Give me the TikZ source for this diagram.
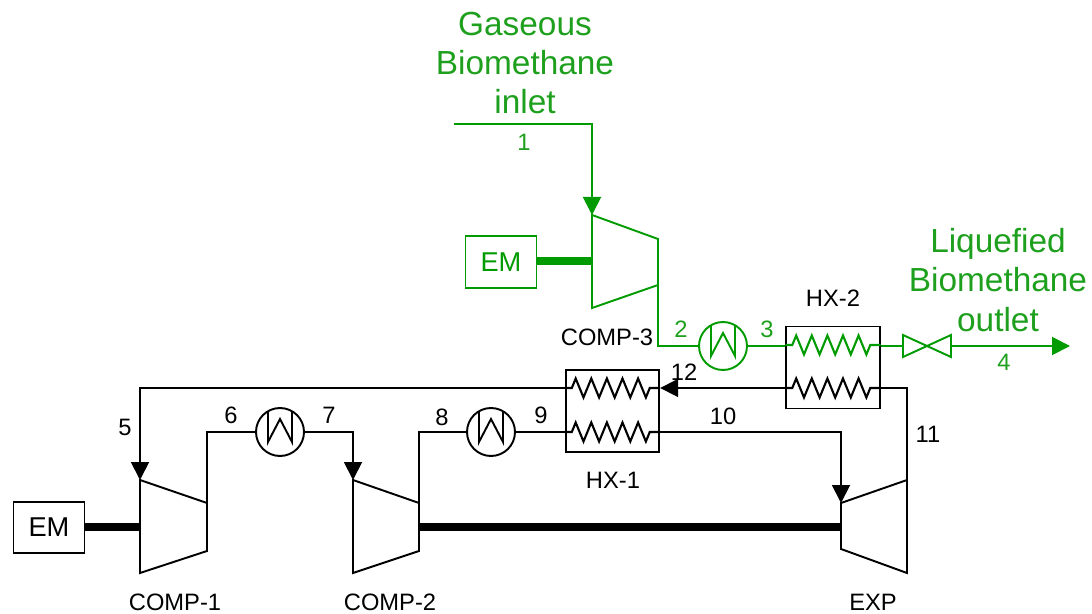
\documentclass[tikz,border=0pt]{standalone}
\usepackage{fontspec}
\setmainfont{Liberation Sans}
\usetikzlibrary{arrows.meta,decorations.pathmorphing}
\definecolor{biogreen}{RGB}{0,155,0}
\definecolor{taggreen}{RGB}{30,160,30}
\tikzset{
  stream/.style={line width=1.1pt,line join=miter},
  feedarrow/.style={-{Triangle[length=0.36cm,width=0.36cm]}},
  shaft/.style={line width=4.4pt},
  coil/.style={line width=1.2pt,decorate,decoration={zigzag,segment length=0.312cm,amplitude=0.19cm,pre length=0.14cm,post length=0.14cm}},
  embox/.style={draw=#1,text=#1,line width=1.1pt,minimum width=1.42cm,minimum height=1.03cm,inner sep=0pt,font=\fontsize{15.5}{18}\selectfont},
  hxbox/.style={draw,line width=1.1pt,minimum width=1.87cm,minimum height=1.64cm,inner sep=0pt},
  coolerbox/.style={circle,draw=#1,line width=1.1pt,minimum size=0.96cm,inner sep=0pt,outer sep=0pt,
    path picture={\draw[#1,line width=1.1pt] ([shift={(-0.24cm,0.5cm)}]path picture bounding box.center) -- ++(0,-0.7cm) -- ++(0.24cm,0.46cm) -- ++(0.24cm,-0.46cm) -- ++(0,0.7cm);}},
  tag/.style={inner sep=0pt,font=\fontsize{13.5}{16}\selectfont},
  bigtag/.style={inner sep=0pt,text=taggreen,align=center,font=\fontsize{19}{22.3}\selectfont}
}
\begin{document}
\begin{tikzpicture}[x=0.02cm,y=-0.02cm]
  \useasboundingbox (0,0) rectangle (1092,614);
  % machines
  \coordinate (c1a) at (140,480);
  \coordinate (c1b) at (207,503);
  \coordinate (c1c) at (207,551);
  \coordinate (c1d) at (140,573);
  \coordinate (c1s) at (140,527);
  \coordinate (c2a) at (353,480);
  \coordinate (c2b) at (419,503);
  \coordinate (c2c) at (419,551);
  \coordinate (c2d) at (353,573);
  \coordinate (c2s) at (419,527);
  \coordinate (c3a) at (592,215);
  \coordinate (c3b) at (658,239);
  \coordinate (c3c) at (658,285);
  \coordinate (c3d) at (592,308);
  \coordinate (c3s) at (592,261);
  \coordinate (expa) at (841,503);
  \coordinate (expb) at (907,480);
  \coordinate (expc) at (907,573);
  \coordinate (expd) at (841,549);
  \coordinate (exps) at (841,527);
  \draw[stream] (c1a)--(c1b)--(c1c)--(c1d)--cycle;
  \draw[stream] (c2a)--(c2b)--(c2c)--(c2d)--cycle;
  \draw[stream,biogreen] (c3a)--(c3b)--(c3c)--(c3d)--cycle;
  \draw[stream] (expa)--(expb)--(expc)--(expd)--cycle;
  \node[embox=black](em1)at(49,527.5){EM};
  \node[embox=biogreen](em3)at(501,262){EM};
  \draw[shaft] (em1.east|-c1s)--(c1s);
  \draw[shaft] (c2s)--(exps);
  \draw[shaft,biogreen] (em3.east|-c3s)--(c3s);
  % coolers
  \node[coolerbox=black](cool1)at(280,432){};
  \node[coolerbox=black](cool2)at(491,432){};
  \node[coolerbox=biogreen](cool3)at(723,346){};
  % heat exchangers
  \node[hxbox](hx1)at(612.5,411){};
  \node[hxbox](hx2)at(833,367.5){};
  \draw[coil] (hx1.west|-0,388)--(hx1.east|-0,388);
  \draw[coil] (hx1.west|-0,432)--(hx1.east|-0,432);
  \draw[coil,biogreen] (hx2.west|-0,345)--(hx2.east|-0,345);
  \draw[coil] (hx2.west|-0,388)--(hx2.east|-0,388);
  % valve
  \coordinate (va) at (903,335);
  \coordinate (vb) at (951,357);
  \coordinate (vc) at (951,335);
  \coordinate (vd) at (903,357);
  \coordinate (vl) at (903,346);
  \coordinate (vr) at (951,346);
  \draw[stream,biogreen] (va)--(vb)--(vc)--(vd)--cycle;
  % streams
  \coordinate (gasin) at (454,124);
  \coordinate (gasout) at (1070,346);
  \draw[stream,biogreen,feedarrow] (gasin)-|(c3a);
  \draw[stream,biogreen] (c3c)|-(cool3);
  \draw[stream,biogreen] (cool3)--(hx2.west|-cool3);
  \draw[stream,biogreen] (hx2.east|-vl)--(vl);
  \draw[stream,biogreen,feedarrow] (vr)--(gasout);
  \draw[stream] (expb)|-(hx2.east|-0,388);
  \draw[stream,feedarrow] (hx2.west|-0,388)--(hx1.east|-0,388);
  \draw[stream,feedarrow] (hx1.west|-0,388)-|(c1a);
  \draw[stream] (c1b)|-(cool1);
  \draw[stream,feedarrow] (cool1)-|(c2a);
  \draw[stream] (c2b)|-(cool2);
  \draw[stream] (cool2)--(hx1.west|-cool2);
  \draw[stream,feedarrow] (hx1.east|-0,432)-|(expa);
  % labels
  \node[bigtag](gaslabel)at(525,63){Gaseous\\Biomethane\\inlet};
  \node[bigtag](liqlabel)at(998,280){Liquefied\\Biomethane\\outlet};
  \node[tag,text=taggreen](s1)at(524,142){1};
  \node[tag,text=taggreen](s2)at(681,329){2};
  \node[tag,text=taggreen](s3)at(767,329){3};
  \node[tag,text=taggreen](s4)at(1004,362){4};
  \node[tag](s5)at(125,427){5};
  \node[tag](s6)at(231,415){6};
  \node[tag](s7)at(329,415){7};
  \node[tag](s8)at(442,417){8};
  \node[tag](s9)at(541,415){9};
  \node[tag](s10)at(723,416){10};
  \node[tag](s11)at(928,434){11};
  \node[tag](s12)at(684,372){12};
  \node[tag](comp1)at(175,602){COMP-1};
  \node[tag](comp2)at(390,602){COMP-2};
  \node[tag](comp3)at(607,337){COMP-3};
  \node[tag](exp)at(873,602){EXP};
  \node[tag](hxa)at(613,480){HX-1};
  \node[tag](hxb)at(833,298){HX-2};
\end{tikzpicture}
\end{document}
